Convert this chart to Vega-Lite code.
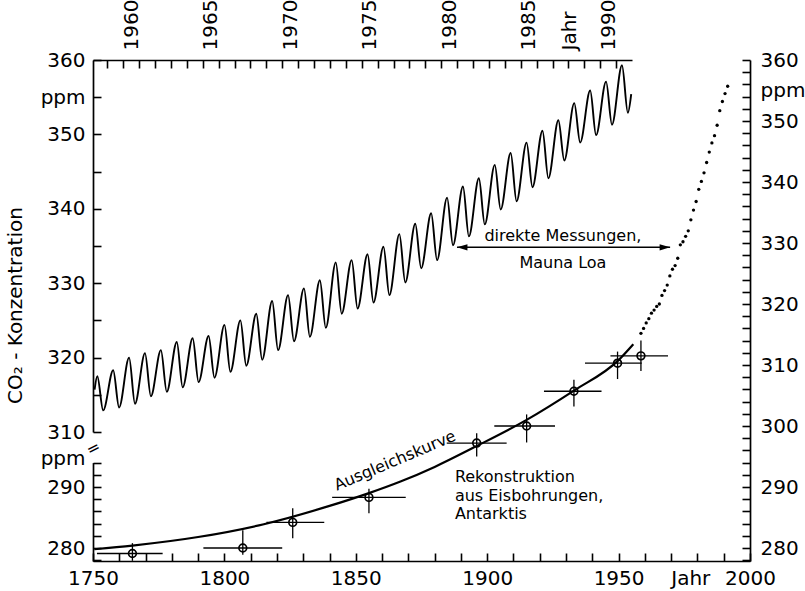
{
  "$schema": "https://vega.github.io/schema/vega-lite/v6.json",
  "width": 657,
  "height": 501,
  "autosize": {"type": "none"},
  "padding": {"left": 93, "top": 60, "right": 55, "bottom": 30},
  "background": "white",
  "config": {
    "view": {"stroke": null},
    "font": "DejaVu Sans",
    "axis": {
      "grid": false,
      "domainColor": "black",
      "tickColor": "black",
      "labelColor": "black",
      "titleColor": "black",
      "domainWidth": 1.7,
      "tickWidth": 1.6,
      "tickSize": -8,
      "labelFontSize": 20,
      "labelFont": "DejaVu Sans",
      "labelOverlap": false,
      "labelFlush": false,
      "labelBound": false,
      "format": "d"
    }
  },
  "datasets": {
    "ml": [
      {"year": 1958.2, "ppm": 315.7}, {"year": 1958.37, "ppm": 317.5}, {"year": 1958.74, "ppm": 312.9},
      {"year": 1959.37, "ppm": 318.3}, {"year": 1959.74, "ppm": 313.3},
      {"year": 1960.37, "ppm": 320.0}, {"year": 1960.74, "ppm": 313.8},
      {"year": 1961.37, "ppm": 320.6}, {"year": 1961.74, "ppm": 314.8},
      {"year": 1962.37, "ppm": 321.0}, {"year": 1962.74, "ppm": 315.4},
      {"year": 1963.37, "ppm": 322.1}, {"year": 1963.74, "ppm": 316.0},
      {"year": 1964.37, "ppm": 322.6}, {"year": 1964.74, "ppm": 316.7},
      {"year": 1965.37, "ppm": 322.9}, {"year": 1965.74, "ppm": 317.3},
      {"year": 1966.37, "ppm": 324.4}, {"year": 1966.74, "ppm": 318.1},
      {"year": 1967.37, "ppm": 325.0}, {"year": 1967.74, "ppm": 318.9},
      {"year": 1968.37, "ppm": 325.9}, {"year": 1968.74, "ppm": 319.7},
      {"year": 1969.37, "ppm": 327.6}, {"year": 1969.74, "ppm": 321.0},
      {"year": 1970.37, "ppm": 328.4}, {"year": 1970.74, "ppm": 322.2},
      {"year": 1971.37, "ppm": 329.3}, {"year": 1971.74, "ppm": 322.8},
      {"year": 1972.37, "ppm": 330.4}, {"year": 1972.74, "ppm": 324.0},
      {"year": 1973.37, "ppm": 332.8}, {"year": 1973.74, "ppm": 325.9},
      {"year": 1974.37, "ppm": 333.1}, {"year": 1974.74, "ppm": 326.6},
      {"year": 1975.37, "ppm": 333.9}, {"year": 1975.74, "ppm": 327.4},
      {"year": 1976.37, "ppm": 334.9}, {"year": 1976.74, "ppm": 328.4},
      {"year": 1977.37, "ppm": 336.6}, {"year": 1977.74, "ppm": 330.1},
      {"year": 1978.37, "ppm": 338.0}, {"year": 1978.74, "ppm": 332.0},
      {"year": 1979.37, "ppm": 339.4}, {"year": 1979.74, "ppm": 333.1},
      {"year": 1980.37, "ppm": 341.5}, {"year": 1980.74, "ppm": 335.1},
      {"year": 1981.37, "ppm": 343.0}, {"year": 1981.74, "ppm": 336.3},
      {"year": 1982.37, "ppm": 344.1}, {"year": 1982.74, "ppm": 337.9},
      {"year": 1983.37, "ppm": 345.9}, {"year": 1983.74, "ppm": 339.9},
      {"year": 1984.37, "ppm": 347.5}, {"year": 1984.74, "ppm": 341.0},
      {"year": 1985.37, "ppm": 348.9}, {"year": 1985.74, "ppm": 342.9},
      {"year": 1986.37, "ppm": 350.5}, {"year": 1986.74, "ppm": 344.1},
      {"year": 1987.37, "ppm": 351.9}, {"year": 1987.74, "ppm": 346.5},
      {"year": 1988.37, "ppm": 354.2}, {"year": 1988.74, "ppm": 348.9},
      {"year": 1989.37, "ppm": 355.9}, {"year": 1989.74, "ppm": 349.9},
      {"year": 1990.37, "ppm": 357.1}, {"year": 1990.74, "ppm": 351.3},
      {"year": 1991.37, "ppm": 359.3}, {"year": 1991.74, "ppm": 352.9},
      {"year": 1991.95, "ppm": 355.4}
    ],
    "annual": [
      {"year": 1958.5, "ppm": 315.2}, {"year": 1959.5, "ppm": 316.0}, {"year": 1960.5, "ppm": 316.9},
      {"year": 1961.5, "ppm": 317.6}, {"year": 1962.5, "ppm": 318.5}, {"year": 1963.5, "ppm": 319.0},
      {"year": 1964.5, "ppm": 319.6}, {"year": 1965.5, "ppm": 320.0}, {"year": 1966.5, "ppm": 321.4},
      {"year": 1967.5, "ppm": 322.2}, {"year": 1968.5, "ppm": 323.1}, {"year": 1969.5, "ppm": 324.6},
      {"year": 1970.5, "ppm": 325.7}, {"year": 1971.5, "ppm": 326.3}, {"year": 1972.5, "ppm": 327.5},
      {"year": 1973.5, "ppm": 329.7}, {"year": 1974.5, "ppm": 330.2}, {"year": 1975.5, "ppm": 331.1},
      {"year": 1976.5, "ppm": 332.0}, {"year": 1977.5, "ppm": 333.8}, {"year": 1978.5, "ppm": 335.4},
      {"year": 1979.5, "ppm": 336.8}, {"year": 1980.5, "ppm": 338.8}, {"year": 1981.5, "ppm": 340.1},
      {"year": 1982.5, "ppm": 341.5}, {"year": 1983.5, "ppm": 343.2}, {"year": 1984.5, "ppm": 344.9},
      {"year": 1985.5, "ppm": 346.4}, {"year": 1986.5, "ppm": 347.6}, {"year": 1987.5, "ppm": 349.3},
      {"year": 1988.5, "ppm": 351.7}, {"year": 1989.5, "ppm": 353.2}, {"year": 1990.5, "ppm": 354.5},
      {"year": 1991.5, "ppm": 355.7}
    ],
    "fit": [
      {"year": 1750.5, "ppm": 279.8}, {"year": 1765, "ppm": 280.4}, {"year": 1790, "ppm": 281.8},
      {"year": 1815, "ppm": 283.9}, {"year": 1840, "ppm": 286.9}, {"year": 1855, "ppm": 289.0},
      {"year": 1867, "ppm": 290.9}, {"year": 1880, "ppm": 293.3}, {"year": 1895, "ppm": 296.5},
      {"year": 1915, "ppm": 301.0}, {"year": 1933, "ppm": 305.8}, {"year": 1950, "ppm": 310.8},
      {"year": 1955.6, "ppm": 313.4}
    ],
    "ice": [
      {"year": 1765, "ppm": 279.1, "x1": 1751.5, "x2": 1776.5, "y1": 277.9, "y2": 280.8},
      {"year": 1807, "ppm": 280.0, "x1": 1792, "x2": 1822, "y1": 278.9, "y2": 282.9},
      {"year": 1826, "ppm": 284.2, "x1": 1816, "x2": 1838, "y1": 281.6, "y2": 286.5},
      {"year": 1855, "ppm": 288.3, "x1": 1841, "x2": 1869, "y1": 285.7, "y2": 289.7},
      {"year": 1896, "ppm": 297.2, "x1": 1884.6, "x2": 1907.4, "y1": 295.0, "y2": 298.8},
      {"year": 1915, "ppm": 300.0, "x1": 1902.7, "x2": 1925.8, "y1": 297.3, "y2": 301.9},
      {"year": 1933, "ppm": 305.7, "x1": 1921.6, "x2": 1943.5, "y1": 303.2, "y2": 307.6},
      {"year": 1949.6, "ppm": 310.3, "x1": 1937.2, "x2": 1958.8, "y1": 307.7, "y2": 312.2},
      {"year": 1958.5, "ppm": 311.5, "x1": 1946.9, "x2": 1968.8, "y1": 309.0, "y2": 314.0}
    ],
    "arrow": [{"x1": 1888.5, "x2": 1969.6, "ppm": 329.3}],
    "heads": [
      {"year": 1888.5, "ppm": 329.3, "dir": "l"},
      {"year": 1969.6, "ppm": 329.3, "dir": "r"}
    ],
    "notes_c": [
      {"year": 1928.8, "ppm": 331.1, "label": "direkte Messungen,"},
      {"year": 1928.8, "ppm": 326.7, "label": "Mauna Loa"}
    ],
    "notes_l": [
      {"year": 1887.7, "ppm": 291.7, "label": "Rekonstruktion"},
      {"year": 1887.7, "ppm": 288.6, "label": "aus Eisbohrungen,"},
      {"year": 1887.7, "ppm": 285.5, "label": "Antarktis"}
    ],
    "notes_r": [{"year": 1864.9, "ppm": 294.3, "label": "Ausgleichskurve"}],
    "brk": [{"year": 1750.2, "ppm": 296.3, "label": "="}],
    "lower": [{"ppm": 285}]
  },
  "layer": [
    {
      "data": {"name": "fit"},
      "mark": {"type": "line", "interpolate": "monotone", "color": "black", "strokeWidth": 2.2},
      "encoding": {
        "x": {
          "field": "year", "type": "quantitative",
          "scale": {"domain": [1750, 2000], "nice": false, "zero": false},
          "axis": {
            "orient": "bottom", "title": null,
            "values": [1750,1760,1770,1780,1790,1800,1810,1820,1830,1840,1850,1860,1870,1880,1890,1900,1910,1920,1930,1940,1950,1960,1970,1975,1980,1990,2000],
            "labelExpr": "datum.value == 1975 ? 'Jahr' : (datum.value % 50 == 0 ? datum.label : '')",
            "tickOpacity": {"condition": {"test": "datum.value == 1975", "value": 0}, "value": 1},
            "labelOffset": {"condition": {"test": "datum.value == 1975", "value": 6}, "value": 0},
            "labelOverlap": false,
            "tickSize": -8,
            "labelPadding": 15
          }
        },
        "y": {
          "field": "ppm", "type": "quantitative",
          "scale": {"domain": [277.87, 360], "nice": false, "zero": false},
          "axis": {
            "orient": "right", "title": null,
            "values": [278,280,282,284,286,288,290,292,294,296,298,300,302,304,306,308,310,312,314,316,318,320,322,324,326,328,330,332,334,336,338,340,342,344,346,348,350,352,354,355,356,358,360],
            "labelExpr": "datum.value == 355 ? 'ppm' : (datum.value % 10 == 0 ? datum.label : '')",
            "tickOpacity": {"condition": {"test": "datum.value == 355", "value": 0}, "value": 1},
            "labelOverlap": false,
            "tickSize": -8,
            "labelPadding": 18
          }
        }
      }
    },
    {
      "data": {"name": "annual"},
      "mark": {"type": "point", "filled": true, "color": "black", "size": 11, "opacity": 1},
      "encoding": {
        "x": {"field": "year", "type": "quantitative", "scale": {"domain": [1750, 2000], "nice": false, "zero": false}, "axis": null},
        "y": {"field": "ppm", "type": "quantitative", "scale": {"domain": [277.87, 360], "nice": false, "zero": false}, "axis": null}
      }
    },
    {
      "data": {"name": "ice"},
      "mark": {"type": "rule", "color": "black", "strokeWidth": 1.3},
      "encoding": {
        "x": {"field": "x1", "type": "quantitative", "scale": {"domain": [1750, 2000], "nice": false, "zero": false}, "axis": null},
        "x2": {"field": "x2"},
        "y": {"field": "ppm", "type": "quantitative", "scale": {"domain": [277.87, 360], "nice": false, "zero": false}, "axis": null}
      }
    },
    {
      "data": {"name": "ice"},
      "mark": {"type": "rule", "color": "black", "strokeWidth": 1.3},
      "encoding": {
        "x": {"field": "year", "type": "quantitative", "scale": {"domain": [1750, 2000], "nice": false, "zero": false}, "axis": null},
        "y": {"field": "y1", "type": "quantitative", "scale": {"domain": [277.87, 360], "nice": false, "zero": false}, "axis": null},
        "y2": {"field": "y2"}
      }
    },
    {
      "data": {"name": "ice"},
      "mark": {"type": "point", "shape": "circle", "filled": false, "color": "black", "strokeWidth": 1.7, "size": 60, "opacity": 1},
      "encoding": {
        "x": {"field": "year", "type": "quantitative", "scale": {"domain": [1750, 2000], "nice": false, "zero": false}, "axis": null},
        "y": {"field": "ppm", "type": "quantitative", "scale": {"domain": [277.87, 360], "nice": false, "zero": false}, "axis": null}
      }
    },
    {
      "data": {"name": "arrow"},
      "mark": {"type": "rule", "color": "black", "strokeWidth": 1.5},
      "encoding": {
        "x": {"field": "x1", "type": "quantitative", "scale": {"domain": [1750, 2000], "nice": false, "zero": false}, "axis": null},
        "x2": {"field": "x2"},
        "y": {"field": "ppm", "type": "quantitative", "scale": {"domain": [277.87, 360], "nice": false, "zero": false}, "axis": null}
      }
    },
    {
      "data": {"name": "heads"},
      "mark": {"type": "point", "filled": true, "color": "black", "size": 110, "opacity": 1},
      "encoding": {
        "x": {"field": "year", "type": "quantitative", "scale": {"domain": [1750, 2000], "nice": false, "zero": false}, "axis": null},
        "y": {"field": "ppm", "type": "quantitative", "scale": {"domain": [277.87, 360], "nice": false, "zero": false}, "axis": null},
        "shape": {"field": "dir", "type": "nominal", "legend": null,
          "scale": {"domain": ["l", "r"], "range": ["M0,0L2,-0.6L2,0.6Z", "M0,0L-2,-0.6L-2,0.6Z"]}}
      }
    },
    {
      "data": {"name": "notes_c"},
      "mark": {"type": "text", "fontSize": 16, "align": "center", "baseline": "middle", "color": "black"},
      "encoding": {
        "x": {"field": "year", "type": "quantitative", "scale": {"domain": [1750, 2000], "nice": false, "zero": false}, "axis": null},
        "y": {"field": "ppm", "type": "quantitative", "scale": {"domain": [277.87, 360], "nice": false, "zero": false}, "axis": null},
        "text": {"field": "label"}
      }
    },
    {
      "data": {"name": "notes_l"},
      "mark": {"type": "text", "fontSize": 16, "align": "left", "baseline": "middle", "color": "black"},
      "encoding": {
        "x": {"field": "year", "type": "quantitative", "scale": {"domain": [1750, 2000], "nice": false, "zero": false}, "axis": null},
        "y": {"field": "ppm", "type": "quantitative", "scale": {"domain": [277.87, 360], "nice": false, "zero": false}, "axis": null},
        "text": {"field": "label"}
      }
    },
    {
      "data": {"name": "notes_r"},
      "mark": {"type": "text", "fontSize": 16, "align": "center", "baseline": "middle", "angle": -23, "color": "black"},
      "encoding": {
        "x": {"field": "year", "type": "quantitative", "scale": {"domain": [1750, 2000], "nice": false, "zero": false}, "axis": null},
        "y": {"field": "ppm", "type": "quantitative", "scale": {"domain": [277.87, 360], "nice": false, "zero": false}, "axis": null},
        "text": {"field": "label"}
      }
    },
    {
      "data": {"name": "brk"},
      "mark": {"type": "text", "fontSize": 16, "align": "center", "baseline": "middle", "angle": -27, "color": "black"},
      "encoding": {
        "x": {"field": "year", "type": "quantitative", "scale": {"domain": [1750, 2000], "nice": false, "zero": false}, "axis": null},
        "y": {"field": "ppm", "type": "quantitative", "scale": {"domain": [277.87, 360], "nice": false, "zero": false}, "axis": null},
        "text": {"field": "label"}
      }
    },
    {
      "data": {"name": "ml"},
      "mark": {"type": "line", "interpolate": "monotone", "color": "black", "strokeWidth": 1.9},
      "encoding": {
        "x": {
          "field": "year", "type": "quantitative",
          "scale": {"domain": [1958.1, 1992.0], "range": [0, 539], "nice": false, "zero": false},
          "axis": {
            "orient": "top", "title": null,
            "values": [1959,1960,1961,1962,1963,1964,1965,1966,1967,1968,1969,1970,1971,1972,1973,1974,1975,1976,1977,1978,1979,1980,1981,1982,1983,1984,1985,1986,1987,1988,1989,1990,1991],
            "labelAngle": 270,
            "labelExpr": "datum.value == 1988 ? 'Jahr' : (datum.value % 5 == 0 ? datum.label : '')",
            "labelOffset": {"condition": {"test": "datum.value == 1988", "value": 1}, "value": 8},
            "labelOverlap": false,
            "tickSize": -8,
            "labelPadding": 18
          }
        },
        "y": {
          "field": "ppm", "type": "quantitative",
          "scale": {"domain": [310, 360], "range": [372, 0], "nice": false, "zero": false},
          "axis": {
            "orient": "left",
            "values": [310,315,320,325,330,335,340,345,350,355,360],
            "labelExpr": "datum.value == 355 ? 'ppm' : (datum.value % 10 == 0 ? datum.label : '')",
            "labelOverlap": false,
            "tickSize": -8,
            "labelPadding": 16,
            "title": "CO₂ - Konzentration",
            "titleFontSize": 20,
            "titleFontWeight": "normal",
            "titleAngle": 270,
            "titleX": -78,
            "titleY": 245,
            "titleAlign": "center",
            "titleBaseline": "middle"
          }
        }
      }
    },
    {
      "data": {"name": "lower"},
      "mark": {"type": "point", "opacity": 0},
      "encoding": {
        "y": {
          "field": "ppm", "type": "quantitative",
          "scale": {"domain": [277.87, 294], "range": [501, 402.6], "nice": false, "zero": false},
          "axis": {
            "orient": "left", "title": null,
            "values": [278,280,282,284,286,288,290,292,294],
            "labelExpr": "datum.value == 294 ? 'ppm' : (datum.value % 10 == 0 ? datum.label : '')",
            "labelOffset": {"condition": {"test": "datum.value == 294", "value": -4}, "value": 0},
            "labelOverlap": false,
            "tickSize": -8,
            "labelPadding": 16
          }
        }
      }
    }
  ],
  "resolve": {
    "scale": {"x": "independent", "y": "independent", "shape": "independent"},
    "axis": {"x": "independent", "y": "independent"}
  }
}
